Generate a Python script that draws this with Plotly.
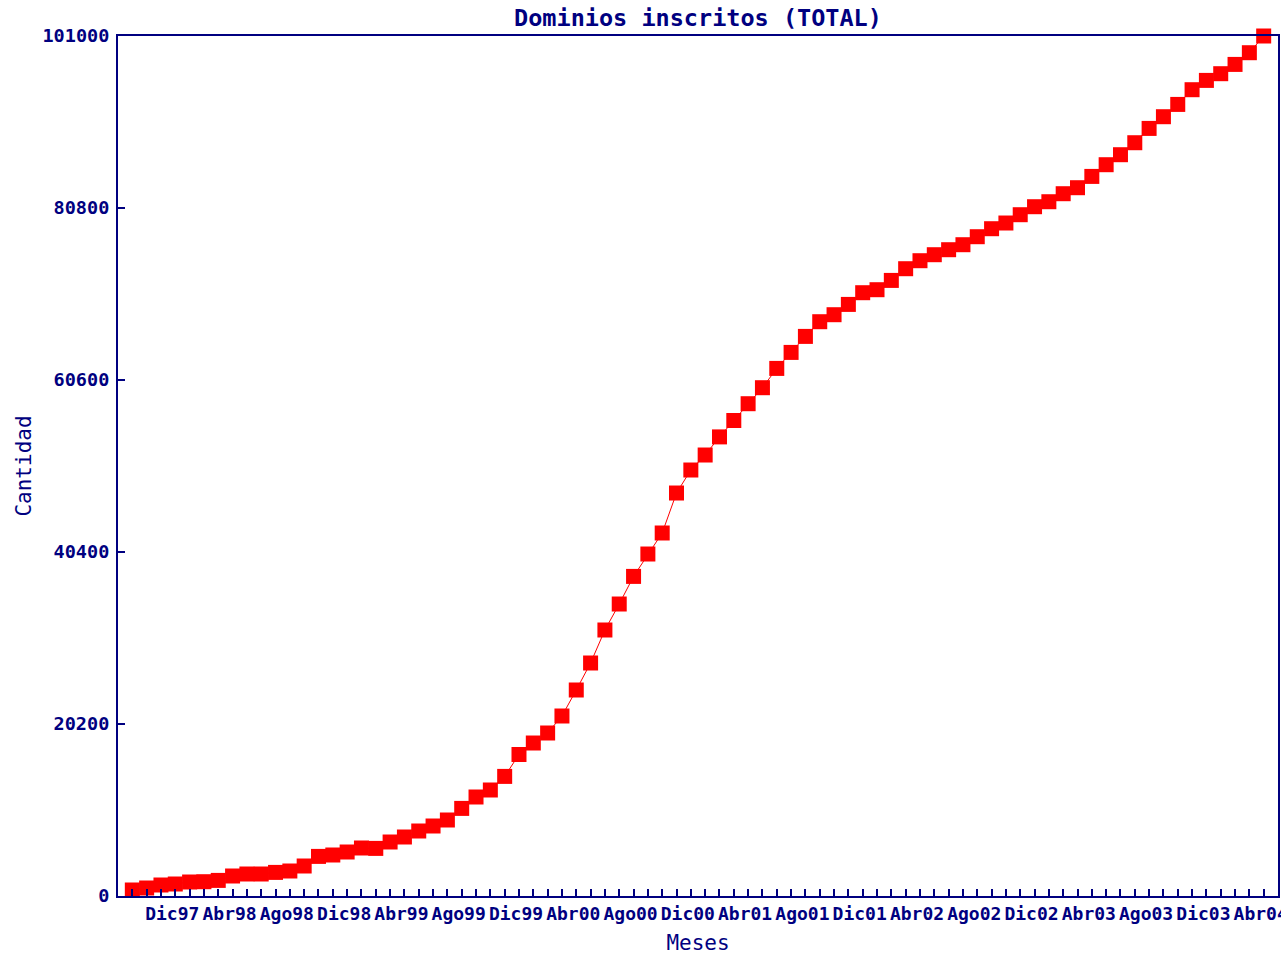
import plotly.graph_objects as go

# Months from Sep 1997 to Apr 2004 (Spanish abbreviations)
month_names = ["Ene", "Feb", "Mar", "Abr", "May", "Jun",
               "Jul", "Ago", "Sep", "Oct", "Nov", "Dic"]
start_year, start_month = 1997, 9
n_months = 80
months = []
for k in range(n_months):
    m = (start_month - 1 + k) % 12
    y = start_year + (start_month - 1 + k) // 12
    months.append(f"{month_names[m]}{y % 100:02d}")

# Cumulative registered domains
dominios = [
    705, 940, 1292, 1409, 1644, 1679, 1832, 2349, 2584, 2584,
    2772, 2936, 3523, 4651, 4815, 5167, 5637, 5590, 6342, 6929,
    7634, 8221, 8925, 10288, 11627, 12449, 14046, 16618, 17968, 19143,
    21139, 24193, 27364, 31239, 34292, 37534, 40164, 42631, 47328, 50029,
    51791, 53917, 55843, 57816, 59695, 61961, 63840, 65720, 67446, 68268,
    69477, 70852, 71204, 72296, 73670, 74610, 75314, 75902, 76489, 77428,
    78368, 79037, 80012, 80951, 81538, 82478, 83183, 84510, 85884, 87058,
    88467, 90147, 91521, 92965, 94692, 95785, 96572, 97663, 99037, 101000,
]

# Labels shown every 4 months starting at Dic97
tick_text = [m if (i % 4 == 3) else "" for i, m in enumerate(months)]

y_ticks = [0, 20200, 40400, 60600, 80800, 101000]

NAVY = "#000080"
RED = "#FF0000"
FONT = "DejaVu Sans Mono"

fig = go.Figure()
fig.add_trace(go.Scatter(
    x=months, y=dominios, mode="lines+markers",
    line=dict(color=RED, width=1),
    marker=dict(symbol="square", size=15, color=RED, line=dict(width=0)),
    cliponaxis=False,
    showlegend=False, hoverinfo="x+y",
))

FIG_W, FIG_H = 1281, 955
fig.update_layout(
    width=FIG_W, height=FIG_H,
    margin=dict(l=118, r=3, t=36, b=59, autoexpand=False),
    paper_bgcolor="white", plot_bgcolor="white",
    title=dict(text="Dominios inscritos (TOTAL)", x=0.5, xref="paper",
               y=1 - 17.5 / FIG_H, yref="container", yanchor="middle",
               font=dict(family=FONT, size=23.5, color=NAVY, weight="bold")),
    font=dict(family=FONT, color=NAVY),
)

fig.update_xaxes(
    type="category", range=[-1, n_months], automargin=False,
    tickmode="array", tickvals=months, ticktext=tick_text, tickangle=0,
    ticklabelshift=-3,
    ticks="inside", ticklen=7, tickwidth=2, tickcolor=NAVY,
    tickfont=dict(family=FONT, size=18, color=NAVY, weight="bold"),
    showline=True, linecolor=NAVY, linewidth=2, mirror=True,
    showgrid=False, zeroline=False,
    title=dict(text="Meses", font=dict(family=FONT, size=21, color=NAVY), standoff=17),
)

fig.update_yaxes(
    range=[0, 101000], automargin=False,
    tickmode="array", tickvals=y_ticks, ticktext=[str(v) for v in y_ticks],
    ticklabelstandoff=3,
    ticks="inside", ticklen=7, tickwidth=2, tickcolor=NAVY,
    tickfont=dict(family=FONT, size=18.5, color=NAVY, weight="bold"),
    showline=True, linecolor=NAVY, linewidth=2, mirror=True,
    showgrid=False, zeroline=False,
    title=dict(text="Cantidad", font=dict(family=FONT, size=21, color=NAVY), standoff=5),
)

# remove the default page margin and scrollbars so the figure fills the window exactly
fig.write_html(
    "out.html",
    config={"displayModeBar": False},
    post_script="document.body.style.margin='0';"
                "document.documentElement.style.overflow='hidden';"
                "document.body.style.overflow='hidden';",
)
